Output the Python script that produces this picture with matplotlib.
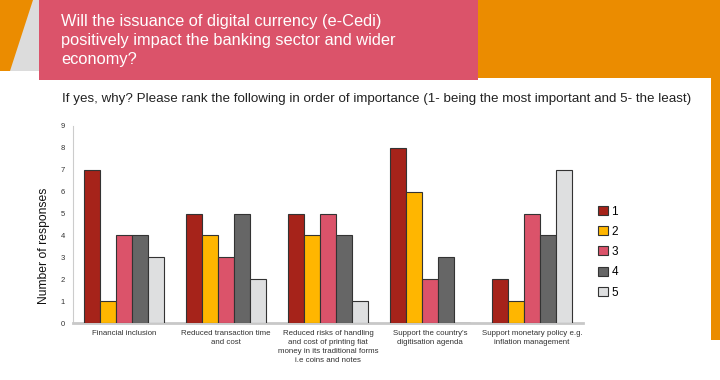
import matplotlib
matplotlib.use("Agg")
import matplotlib.pyplot as plt
import matplotlib.patches as mpatches
import numpy as np

plt.rcParams["font.family"] = ["Liberation Sans", "DejaVu Sans"]

categories = [
    "Financial inclusion",
    "Reduced transaction time\nand cost",
    "Reduced risks of handling\nand cost of printing fiat\nmoney in its traditional forms\ni.e coins and notes",
    "Support the country's\ndigitisation agenda",
    "Support monetary policy e.g.\ninflation management",
]
rank_labels = ["1", "2", "3", "4", "5"]
rank1 = [7, 5, 5, 8, 2]
rank2 = [1, 4, 4, 6, 1]
rank3 = [4, 3, 5, 2, 5]
rank4 = [4, 5, 4, 3, 4]
rank5 = [3, 2, 1, 0, 7]
series = [rank1, rank2, rank3, rank4, rank5]
colors = ["#A6231A", "#FFB600", "#DB536A", "#666666", "#DEDFE0"]

title_lines = [
    "Will the issuance of digital currency (e-Cedi)",
    "positively impact the banking sector and wider",
    "economy?",
]
subtitle = ("If yes, why? Please rank the following in order of importance "
            "(1- being the most important and 5- the least)")

ORANGE = "#EB8C00"
PINK = "#DB536A"
W, H = 720, 380

fig = plt.figure(figsize=(7.2, 3.8), dpi=100)
fig.patch.set_facecolor("white")

# background decoration (pixel coords, y from top)
def px_rect(x0, y0, x1, y1, color):
    fig.patches.append(mpatches.Rectangle((x0 / W, 1 - y1 / H), (x1 - x0) / W, (y1 - y0) / H,
                                          transform=fig.transFigure, facecolor=color,
                                          edgecolor="none", zorder=0))

px_rect(0, 0, 720, 78, ORANGE)
px_rect(711, 0, 720, 340, ORANGE)
fig.patches.append(mpatches.Polygon([(33 / W, 1.0), (39 / W, 1.0), (39 / W, 1 - 71 / H), (10 / W, 1 - 71 / H)],
                                    closed=True, transform=fig.transFigure, facecolor="#DCDCDC",
                                    edgecolor="none", zorder=1))
px_rect(0, 71, 39, 80, "white")
px_rect(39, 0, 478, 80, PINK)

for i, line in enumerate(title_lines):
    fig.text(61 / W, 1 - (26 + 19 * i) / H, line, color="white", fontsize=11.8,
             va="baseline", ha="left")
fig.text(62 / W, 1 - 99 / H, subtitle, color="#222222", fontsize=9.6, va="center", ha="left")

ax = fig.add_axes([73 / W, 1 - 323 / H, 510 / W, 197 / H])
ax.set_facecolor("none")
x = np.arange(len(categories))
bw = 0.157
for i, (vals, c, lab) in enumerate(zip(series, colors, rank_labels)):
    ax.bar(x + (i - 2) * bw, vals, bw, color=c, edgecolor="#333333", linewidth=0.8, label=lab, zorder=3)

ax.set_xlim(-0.5, len(categories) - 0.5)
ax.set_ylim(0, 9)
ax.set_yticks(range(0, 10))
ax.set_xticks(x)
ax.set_xticklabels(categories, fontsize=5.65, color="#333333", linespacing=1.4)
ax.tick_params(axis="y", labelsize=5.5, colors="#333333", length=0, pad=6)
ax.tick_params(axis="x", length=0, pad=5)
for s in ["top", "right"]:
    ax.spines[s].set_visible(False)
ax.spines["left"].set_color("#CCCCCC")
ax.spines["left"].set_linewidth(0.8)
ax.spines["bottom"].set_color("#C8C8C8")
ax.spines["bottom"].set_linewidth(2)
ax.set_ylabel("Number of responses", fontsize=8.7, color="#111111")
ax.yaxis.set_label_coords(-0.045, 0.39)

ax.legend(loc="center left", bbox_to_anchor=(1.0, 0.36), frameon=False, fontsize=8.5,
          handlelength=0.8, handleheight=0.8, handletextpad=0.3, labelspacing=0.7,
          borderaxespad=0.9)

fig.savefig("out.png", dpi=100)
